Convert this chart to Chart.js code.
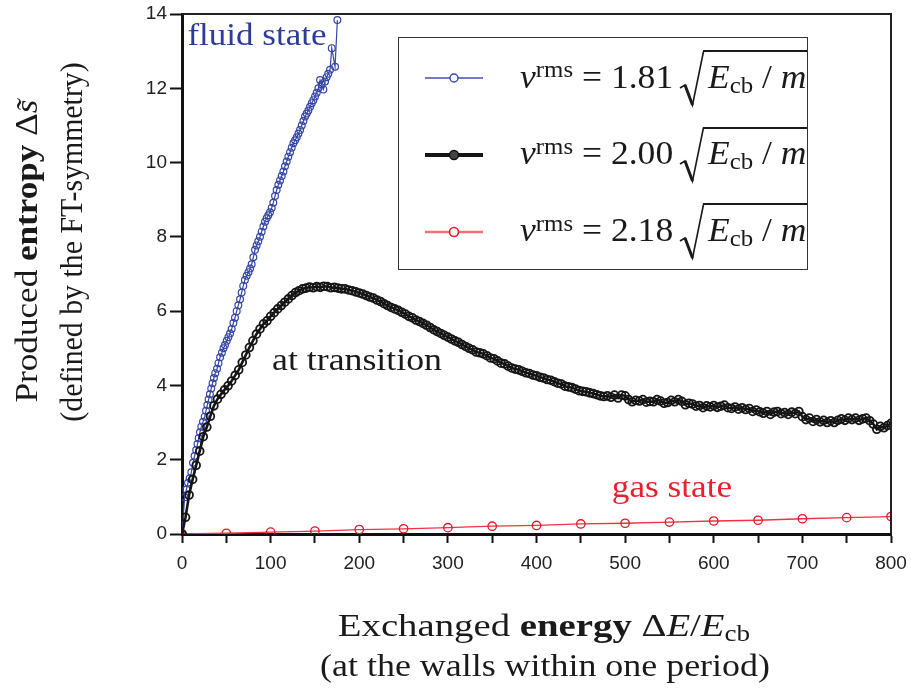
<!DOCTYPE html>
<html><head><meta charset="utf-8">
<script src="https://cdn.jsdelivr.net/npm/chart.js@4.4.0/dist/chart.umd.min.js"></script>
<style>
html,body{margin:0;padding:0;background:#fff;}
#wrap{position:relative;width:911px;height:691px;overflow:hidden;background:#fff;}
canvas{position:absolute;left:0;top:0;}
.t{position:absolute;font-family:"Liberation Serif","Times New Roman",serif;font-size:32px;line-height:1;white-space:nowrap;color:#1a1a1a;}
.c{transform:translate(-50%,-50%);}
.r{transform:translate(-50%,-50%) rotate(-90deg);}
.sb{position:relative;top:0.22em;font-size:0.7em;line-height:0;}
.sp{position:relative;top:-0.45em;font-size:0.7em;line-height:0;}
#legbox{position:absolute;left:398px;top:37px;width:410px;height:233px;border:1.5px solid #333;box-sizing:border-box;}
.ov{position:absolute;height:2px;background:#1a1a1a;}
.rad{position:absolute;}
</style></head>
<body>
<div id="wrap">
<canvas id="c" width="911" height="691"></canvas>
<div id="legbox"></div>
<div id="legend"></div>
<div class="t c" data-w="139" style="left:257px;top:34px;color:#2d3b9a">fluid state</div>
<div class="t c" data-w="170" style="left:357px;top:359px">at transition</div>
<div class="t c" data-w="120" style="left:672px;top:486px;color:#e8202e">gas state</div>
<div class="t c" data-w="412" style="left:544px;top:625px">Exchanged <b>energy</b> Δ<i>E</i>/<i>E</i><span class="sb">cb</span></div>
<div class="t c" data-w="450" style="left:545px;top:665px">(at the walls within one period)</div>
<div class="t r" data-w="303" style="left:26px;top:251px">Produced <b>entropy</b> Δ<i>s̃</i></div>
<div class="t r" data-w="359" style="left:71px;top:242px">(defined by the FT-symmetry)</div>
</div>
<script>
// ---- data ----
const blueX = [0,3,5,6.8,8.7,10.5,12.4,14.2,16,17.5,18.8,20.3,21.8,23.7,25.6,27.1,28.6,30,31.5,33,34.5,36,37.5,39.5,41.2,43,45,46.8,48.5,50.5,52.3,54.2,56,58,59.8,61.7,63.6,65.5,67.3,69.1,71,73,75,76.8,78.6,80.5,82.4,84.2,86.1,88,89.9,91.8,93.7,95.5,97.4,99.3,101.2,103,105,106.8,108.7,110.6,112.5,114.4,116.2,118.1,120,121.9,123.8,125.7,127.6,129.5,131.4,133.2,135.1,137,138.8,140.7,142.6,144.5,146.4,148.2,150.1,152,153.9,155.8,157.6,159.5,161.4,163.2,165,167,169,172.7,175.3];
const blueY = [0,0.99,1.2,1.38,1.5,1.66,1.92,2.1,2.26,2.42,2.58,2.74,2.89,3.02,3.16,3.32,3.47,3.62,3.76,3.92,4.06,4.2,4.33,4.45,4.6,4.76,4.88,5.0,5.09,5.2,5.3,5.4,5.52,5.68,5.82,6.0,6.16,6.32,6.5,6.68,6.84,6.95,7.05,7.15,7.26,7.45,7.65,7.77,7.88,8.0,8.14,8.28,8.41,8.5,8.58,8.66,8.78,8.92,9.1,9.26,9.4,9.52,9.64,9.76,9.9,10.03,10.16,10.28,10.4,10.52,10.6,10.68,10.78,10.88,11.0,11.12,11.24,11.32,11.4,11.5,11.6,11.68,11.78,11.88,12.0,12.22,12.1,11.97,12.18,12.3,12.39,12.5,13.08,12.58,13.84];

const blackX = [0,4,8,12,16,20,24,28,32,36,40,44,48,52,56,60,64,68,72,76,80,84,88,92,96,100,104,108,112,116,120,124,128,132,136,140,144,148,152,156,160,164,168,172,176,180,184,188,192,196,200,204,208,212,216,220,224,228,232,236,240,244,248,252,256,260,264,268,272,276,280,284,288,292,296,300,304,308,312,316,320,324,328,332,336,340,344,348,352,356,360,364,368,372,376,380,384,388,392,396,400,404,408,412,416,420,424,428,432,436,440,444,448,452,456,460,464,468,472,476,480,484,488,492,496,500,504,508,512,516,520,524,528,532,536,540,544,548,552,556,560,564,568,572,576,580,584,588,592,596,600,604,608,612,616,620,624,628,632,636,640,644,648,652,656,660,664,668,672,676,680,684,688,692,696,700,704,708,712,716,720,724,728,732,736,740,744,748,752,756,760,764,768,772,776,780,784,788,792,796,800];
const blackY = [
0,0.45,1.05,1.47,1.85,2.23,2.62,2.88,3.17,3.45,
3.63,3.76,3.88,3.99,4.12,4.27,4.42,4.62,4.82,5.02,
5.2,5.38,5.52,5.66,5.74,5.86,5.96,6.06,6.15,6.24,
6.33,6.42,6.5,6.55,6.6,6.62,6.65,6.63,6.66,6.64,
6.67,6.66,6.63,6.64,6.62,6.6,6.6,6.57,6.55,6.52,
6.49,6.46,6.42,6.38,6.35,6.3,6.26,6.2,6.15,6.1,
6.06,6.02,5.97,5.92,5.86,5.82,5.76,5.72,5.67,5.62,
5.56,5.5,5.45,5.4,5.35,5.3,5.25,5.2,5.16,5.1,
5.05,5.0,4.96,4.9,4.88,4.85,4.8,4.74,4.72,4.66,
4.6,4.58,4.52,4.47,4.44,4.42,4.38,4.34,4.32,4.28,
4.26,4.22,4.2,4.16,4.14,4.1,4.06,4.04,3.98,3.96,
3.94,3.9,3.86,3.84,3.83,3.8,3.78,3.75,3.72,3.7,
3.72,3.68,3.74,3.66,3.74,3.72,3.62,3.56,3.6,3.58,
3.62,3.55,3.57,3.56,3.62,3.58,3.52,3.54,3.6,3.56,
3.62,3.57,3.48,3.52,3.5,3.44,3.46,3.4,3.45,3.42,
3.46,3.41,3.44,3.47,3.4,3.38,3.42,3.36,3.4,3.35,
3.38,3.3,3.34,3.29,3.25,3.3,3.22,3.28,3.3,3.24,
3.27,3.22,3.28,3.24,3.3,3.16,3.08,3.12,3.03,3.08,
3.02,3.06,3.0,3.05,3.0,3.06,3.1,3.06,3.12,3.08,
3.12,3.06,3.1,3.12,3.05,2.96,2.82,2.9,2.86,2.92,
2.98];

const redX = [0,50,100,150,200,250,300,350,400,450,500,550,600,650,700,750,800];
const redY = [0,0.02,0.05,0.08,0.12,0.14,0.17,0.21,0.23,0.27,0.29,0.32,0.35,0.37,0.41,0.44,0.47];

const legendValues = ['1.81','2.00','2.18'];
const xTickStep = 50, xLabelStep = 100, yTickStep = 2;

function pts(xs, ys){ return xs.map((x,i)=>({x:x, y:ys[i]})); }

// ---- legend sample styles ----
const legendStyles = [
  {line:'#4050b0', lw:1.3, r:4, fill:null, stroke:'#3545a5', pw:1.4},
  {line:'#151515', lw:4, r:4.5, fill:'#444', stroke:'#111', pw:1.5},
  {line:'#f2707c', lw:2.5, r:4.5, fill:null, stroke:'#e81e2e', pw:1.6}
];
const legendRowY = [78, 155, 232];

const framePlugin = {
  id:'frame',
  afterDraw(chart){
    const {ctx, chartArea:a} = chart;
    ctx.save();
    ctx.strokeStyle='#222'; ctx.lineWidth=2;
    ctx.beginPath();
    ctx.moveTo(a.left, a.top); ctx.lineTo(a.right, a.top); ctx.lineTo(a.right, a.bottom);
    ctx.stroke();
    legendStyles.forEach((s,i)=>{
      const y = legendRowY[i];
      ctx.strokeStyle=s.line; ctx.lineWidth=s.lw;
      ctx.beginPath(); ctx.moveTo(425,y); ctx.lineTo(483,y); ctx.stroke();
      ctx.beginPath(); ctx.arc(454,y,s.r,0,Math.PI*2);
      ctx.fillStyle = s.fill ? s.fill : '#fff'; ctx.fill();
      ctx.strokeStyle=s.stroke; ctx.lineWidth=s.pw; ctx.stroke();
    });
    ctx.restore();
  }
};

const tickFont = {family:'"Liberation Sans", Arial, sans-serif', size:19};

new Chart(document.getElementById('c'), {
  type:'line',
  data:{datasets:[
    {label:'v=2.00', data:pts(blackX,blackY), borderColor:'#151515', borderWidth:2.6,
     pointRadius:3.9, pointBorderWidth:1.8, pointBorderColor:'#151515', pointBackgroundColor:'rgba(255,255,255,0)', tension:0},
    {label:'v=1.81', data:pts(blueX,blueY), borderColor:'#3545a5', borderWidth:1.2,
     pointRadius:3.4, pointBorderWidth:1.2, pointBorderColor:'#3545a5', pointBackgroundColor:'rgba(255,255,255,0)', tension:0},
    {label:'v=2.18', data:pts(redX,redY), borderColor:'#ee3342', borderWidth:1.3,
     pointRadius:4.2, pointBorderWidth:1.3, pointBorderColor:'#e8142a', pointBackgroundColor:'rgba(255,255,255,0)', tension:0}
  ]},
  options:{
    responsive:false, animation:false,
    plugins:{legend:{display:false}, tooltip:{enabled:false}},
    layout:{padding:{left:0, top:14, right:20, bottom:0}},
    scales:{
      x:{type:'linear', min:0, max:800,
         afterFit(s){ s.height = 157; s.paddingLeft = 0; s.paddingRight = 0; },
         ticks:{stepSize:xTickStep, autoSkip:false, maxRotation:0, padding:9, color:'#222', font:tickFont,
                callback:(v)=> (v % xLabelStep === 0 ? String(v) : '')},
         grid:{drawOnChartArea:false, drawTicks:true, tickLength:9, tickWidth:2, tickColor:'#111'},
         border:{display:true, width:3, color:'#111'}},
      y:{min:0, max:14,
         afterFit(s){ s.width = 182; s.paddingTop = 0; s.paddingBottom = 0; },
         ticks:{stepSize:yTickStep, padding:3, color:'#222', font:tickFont},
         grid:{drawOnChartArea:false, drawTicks:true, tickLength:12, tickWidth:2, tickColor:'#111'},
         border:{display:true, width:3, color:'#111'}}
    }
  },
  plugins:[framePlugin]
});

// ---- legend text (HTML) ----
const leg = document.getElementById('legend');
legendValues.forEach((val,i)=>{
  const dy = i*76.7;
  const base = 88.3 + dy;
  const F = 33, off = 0.8375*F;
  const a = document.createElement('div');
  a.className='t'; a.style.fontSize=F+'px'; a.style.left='520px'; a.style.top=(base-off)+'px';
  a.dataset.w='153';
  a.innerHTML='<i>v</i><span class="sp">rms</span> = '+val;
  leg.appendChild(a);
  const svgNS='http://www.w3.org/2000/svg';
  const svg=document.createElementNS(svgNS,'svg');
  svg.setAttribute('width','26'); svg.setAttribute('height','58');
  svg.setAttribute('class','rad');
  svg.style.left='679px'; svg.style.top=(49.5+dy)+'px';
  svg.innerHTML='<path d="M1 38 L6 35 L13.5 55 L24.5 1.5" fill="none" stroke="#1a1a1a" stroke-width="1.6" stroke-linejoin="miter"/><path d="M6 35 L13.5 55" stroke="#1a1a1a" stroke-width="3"/>';
  leg.appendChild(svg);
  const o=document.createElement('div');
  o.className='ov'; o.style.left='703px'; o.style.top=(50+dy)+'px'; o.style.width='104px';
  leg.appendChild(o);
  const b=document.createElement('div');
  b.className='t'; b.style.fontSize=F+'px'; b.style.left='708px'; b.style.top=(base-off)+'px';
  b.dataset.w='99';
  b.innerHTML='<i>E</i><span class="sb">cb</span> / <i>m</i>';
  leg.appendChild(b);
});

// fit text widths to the reference widths by horizontal scaling (mimics the wider original face)
document.querySelectorAll('[data-w]').forEach(el=>{
  const w=+el.dataset.w;
  const cur=el.offsetWidth;
  const k=w/cur;
  let base='';
  if(el.classList.contains('r')) base='translate(-50%,-50%) rotate(-90deg) ';
  else if(el.classList.contains('c')) base='translate(-50%,-50%) ';
  else el.style.transformOrigin='0 50%';
  el.style.transform=base+'scaleX('+k.toFixed(4)+')';
});
</script>
</body></html>
